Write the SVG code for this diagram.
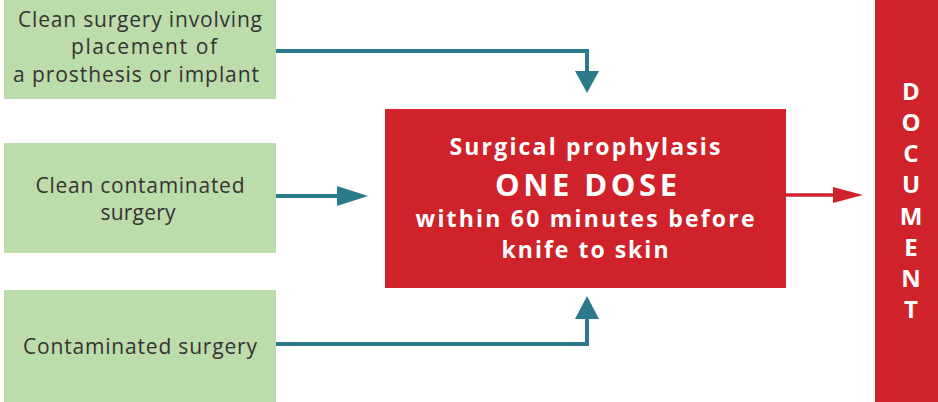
<svg xmlns="http://www.w3.org/2000/svg" width="938" height="402" viewBox="0 0 938 402">
  <style>
    .green { fill: #bddcab; }
    .red { fill: #d0222b; }
    .lt { font-family: "Open Sans", "Noto Sans", sans-serif; font-size: 21px; fill: #333333; text-anchor: middle; }
    .wt { font-family: "Open Sans", "Noto Sans", sans-serif; font-weight: bold; fill: #ffffff; text-anchor: middle; }
    .teal { stroke: #2a7a8b; stroke-width: 4; fill: none; }
    .redline { stroke: #d0222b; stroke-width: 3.5; fill: none; }
  </style>
  <rect width="938" height="402" fill="#ffffff"/>

  <g id="node-clean-prosthesis">
    <rect class="green" x="4" y="0" width="272" height="99"/>
    <text class="lt" x="140" y="27" textLength="244" lengthAdjust="spacing">Clean surgery involving</text>
    <text class="lt" x="144" y="54" textLength="146" lengthAdjust="spacing">placement of</text>
    <text class="lt" x="136" y="82" textLength="246" lengthAdjust="spacing">a prosthesis or implant</text>
  </g>
  <g id="node-clean-contaminated">
    <rect class="green" x="4" y="143" width="272" height="110"/>
    <text class="lt" x="140" y="193" textLength="209" lengthAdjust="spacing">Clean contaminated</text>
    <text class="lt" x="138" y="220" textLength="75" lengthAdjust="spacing">surgery</text>
  </g>
  <g id="node-contaminated">
    <rect class="green" x="4" y="290" width="272" height="112"/>
    <text class="lt" x="140" y="354" textLength="234" lengthAdjust="spacing">Contaminated surgery</text>
  </g>
  <g id="node-prophylaxis">
    <rect class="red" x="385" y="109" width="401" height="179"/>
    <text class="wt" x="585" y="155" font-size="23" textLength="271" lengthAdjust="spacing">Surgical prophylasis</text>
    <text class="wt" x="586" y="196" font-size="31" textLength="182" lengthAdjust="spacing">ONE DOSE</text>
    <text class="wt" x="585" y="227" font-size="23" textLength="339" lengthAdjust="spacing">within 60 minutes before</text>
    <text class="wt" x="585" y="258" font-size="23" textLength="167" lengthAdjust="spacing">knife to skin</text>
  </g>
  <g id="node-document">
    <rect class="red" x="875" y="0" width="63" height="402"/>
    <g class="wt" font-size="24">
      <text x="911" y="100">D</text>
      <text x="911" y="131">O</text>
      <text x="911" y="162">C</text>
      <text x="911" y="193">U</text>
      <text x="911" y="225">M</text>
      <text x="911" y="256">E</text>
      <text x="911" y="287">N</text>
      <text x="911" y="318">T</text>
    </g>
  </g>

  <g id="connectors">
    <path class="teal" d="M276,51 H587 V72"/>
    <polygon fill="#2a7a8b" points="575,71 599,71 587,93"/>
    <path class="teal" d="M276,196 H338"/>
    <polygon fill="#2a7a8b" points="337,186 337,206 368,196"/>
    <path class="teal" d="M276,344 H587 V318"/>
    <polygon fill="#2a7a8b" points="575,319 599,319 587,296"/>
    <path class="redline" d="M786,195 H834"/>
    <polygon fill="#d0222b" points="833,187 833,203 863,195"/>
  </g>
</svg>
